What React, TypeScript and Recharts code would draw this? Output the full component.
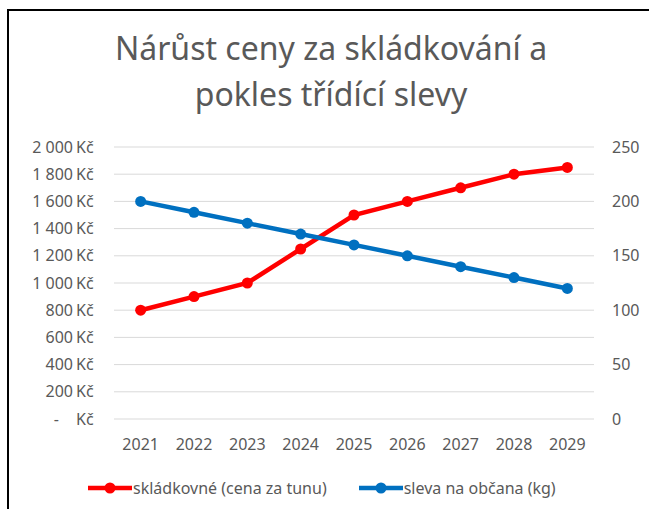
import { LineChart, Line, XAxis, YAxis, CartesianGrid } from 'recharts';

const years = ['2021', '2022', '2023', '2024', '2025', '2026', '2027', '2028', '2029'];
const landfillFee = [800, 900, 1000, 1250, 1500, 1600, 1700, 1800, 1850];
const citizenDiscount = [200, 190, 180, 170, 160, 150, 140, 130, 120];
const leftTicks = [0, 200, 400, 600, 800, 1000, 1200, 1400, 1600, 1800, 2000];
const rightTicks = [0, 50, 100, 150, 200, 250];

const data = years.map((year, i) => ({
  year,
  fee: landfillFee[i],
  discount: citizenDiscount[i],
}));

const FONT = '"Noto Sans", "Open Sans", sans-serif';
const TEXT = '#595959';
const RED = '#FF0000';
const BLUE = '#0070C0';

const fmtThousands = (v: number) => String(v).replace(/\B(?=(\d{3})+(?!\d))/g, ' ');

function LeftTick(props: any) {
  const { y, payload } = props;
  const v = payload.value as number;
  return (
    <g fontFamily={FONT} fontSize={16} fill={TEXT}>
      <text x={v === 0 ? 59 : 73} y={y} dy={5.5} textAnchor="end">{v === 0 ? '-' : fmtThousands(v)}</text>
      <text x={76} y={y} dy={5.5} textAnchor="start">Kč</text>
    </g>
  );
}

function RightTick(props: any) {
  const { y, payload } = props;
  return (
    <text x={612} y={y} dy={5.5} textAnchor="start" fontFamily={FONT} fontSize={16} fill={TEXT}>
      {payload.value}
    </text>
  );
}

function LegendItem({ color, label }: { color: string; label: string }) {
  return (
    <div style={{ display: 'flex', alignItems: 'center' }}>
      <svg width={44} height={14}>
        <line x1={0} y1={7} x2={44} y2={7} stroke={color} strokeWidth={4.5} strokeLinecap="round" />
        <circle cx={22} cy={7} r={5.5} fill={color} />
      </svg>
      <span style={{ marginLeft: 1 }}>{label}</span>
    </div>
  );
}

export default function App() {
  return (
    <div style={{ position: 'absolute', left: 0, top: 0, width: 649, height: 509, background: '#fff', overflow: 'hidden' }}>
      <div style={{ position: 'absolute', left: 7, top: 9, right: 0, bottom: 0, borderTop: '2px solid #000', borderLeft: '2px solid #000' }} />
      <div
        style={{
          position: 'absolute', left: 0, top: 25, width: 662, textAlign: 'center',
          fontFamily: FONT, fontSize: 32, lineHeight: '46px', color: TEXT,
        }}
      >
        Nárůst ceny za skládkování a<br />pokles třídící slevy
      </div>
      <div style={{ position: 'absolute', left: 0, top: 0 }}>
        <LineChart width={649} height={509} data={data} margin={{ top: 147, right: 0, bottom: 60, left: 0 }}>
          <CartesianGrid vertical={false} stroke="#D9D9D9" strokeWidth={1} yAxisId="left" />
          <XAxis
            dataKey="year"
            scale="band"
            axisLine={false}
            tickLine={false}
            height={30}
            tick={{ fill: TEXT, fontSize: 16, fontFamily: FONT }}
            dy={12}
          />
          <YAxis
            yAxisId="left"
            orientation="left"
            width={114}
            domain={[0, 2000]}
            ticks={leftTicks}
            axisLine={false}
            tickLine={false}
            tick={<LeftTick />}
          />
          <YAxis
            yAxisId="right"
            orientation="right"
            width={55}
            domain={[0, 250]}
            ticks={rightTicks}
            axisLine={false}
            tickLine={false}
            tick={<RightTick />}
          />
          <Line yAxisId="left" dataKey="fee" stroke={RED} strokeWidth={4.5} dot={{ r: 5.5, fill: RED, stroke: 'none' }} isAnimationActive={false} />
          <Line yAxisId="right" dataKey="discount" stroke={BLUE} strokeWidth={4.5} dot={{ r: 5.5, fill: BLUE, stroke: 'none' }} isAnimationActive={false} />
        </LineChart>
      </div>
      <div
        style={{
          position: 'absolute', left: 88, top: 478, display: 'flex', gap: 32,
          fontFamily: FONT, fontSize: 16, color: TEXT, lineHeight: '20px',
        }}
      >
        <LegendItem color={RED} label="skládkovné (cena za tunu)" />
        <LegendItem color={BLUE} label="sleva na občana (kg)" />
      </div>
    </div>
  );
}
